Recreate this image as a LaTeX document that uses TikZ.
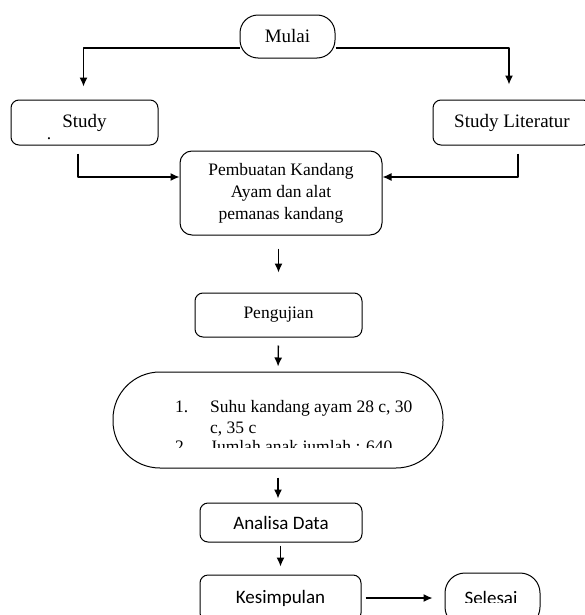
\documentclass[tikz,border=0pt]{standalone}
\usepackage{fontspec}
\setmainfont{Liberation Serif}
\newfontfamily\calibri{Carlito}
\usetikzlibrary{arrows.meta}
\begin{document}
\begin{tikzpicture}[>={Latex[length=9bp,width=8bp]},line join=bevel,
  kotak/.style={draw,line width=1bp,rounded corners=8bp,inner sep=0pt,align=center},
  teks/.style={inner sep=0pt,font=\fontsize{17.5bp}{22bp}\selectfont},
  besar/.style={font=\fontsize{19bp}{22bp}\selectfont},
  sans/.style={font=\calibri\fontsize{19bp}{22bp}\selectfont},
  panah/.style={black,line width=1.3bp,->},
]
\useasboundingbox (0bp,0bp) rectangle (585bp,-615bp);
\clip (0bp,0bp) rectangle (585bp,-615bp);
%%
\node (mulai) at (287.5bp,-36.5bp) [kotak,besar,rounded corners=18bp,minimum width=95bp,minimum height=43bp] {Mulai};
  \node (study) at (84.5bp,-122.5bp) [kotak,besar,minimum width=147bp,minimum height=45bp] {Study};
  \node (titik) at (49bp,-139bp) [teks] {.};
  \node (stulit) at (512bp,-122.5bp) [kotak,besar,minimum width=158bp,minimum height=45bp] {Study Literatur};
  \node (buat) at (281bp,-193bp) [kotak,teks,rounded corners=12bp,minimum width=202bp,minimum height=84bp] {Pembuatan Kandang\\Ayam dan alat\\pemanas kandang};
  \node (uji) at (278.5bp,-315bp) [kotak,teks,minimum width=167bp,minimum height=44bp] {Pengujian};
  \node (hasil) at (278bp,-420bp) [kotak,rounded corners=47bp,minimum width=330bp,minimum height=96bp] {};
  \node (no1) at (175bp,-412bp) [teks,anchor=base west] {1.};
  \node (suhu) at (210bp,-412bp) [teks,anchor=base west] {Suhu kandang ayam 28 c, 30};
  \node (suhu2) at (210bp,-433bp) [teks,anchor=base west] {c, 35 c};
  \begin{scope}
  \clip (113bp,-372bp) rectangle (443bp,-447bp);
  \node (no2) at (175bp,-452bp) [teks,anchor=base west] {2.};
  \node (jumlah) at (210bp,-452bp) [teks,anchor=base west] {Jumlah anak jumlah : 640};
  \end{scope}
  \node (analisa) at (281bp,-522.5bp) [kotak,sans,minimum width=162bp,minimum height=39bp] {Analisa Data};
  \node (simpul) at (280.5bp,-598bp) [kotak,sans,minimum width=161bp,minimum height=46bp] {Kesimpulan};
  \node (selesai) at (492.5bp,-600bp) [kotak,rounded corners=20bp,minimum width=95bp,minimum height=54bp] {};
  \begin{scope}
  \clip (445bp,-570bp) rectangle (540bp,-602bp);
  \node (tselesai) at (491bp,-604bp) [sans,inner sep=0pt,anchor=base] {Selesai};
  \end{scope}
%
  \draw [panah] ([yshift=-11.5bp]mulai.west) -| ([xshift=-1bp,yshift=13bp]study.north);
  \draw [panah] ([yshift=-11.5bp]mulai.east) -| ([xshift=-3bp,yshift=15bp]stulit.north);
  \draw [panah] ([xshift=-6.5bp,yshift=-8bp]study.south) |- ([yshift=16bp]buat.west);
  \draw [panah] ([xshift=6bp,yshift=-8bp]stulit.south) |- ([yshift=16bp]buat.east);
  \draw [panah,shorten <=13bp,shorten >=20bp] (uji.north |- buat.south) -- (uji.north);
  \draw [panah,shorten <=8bp,shorten >=5bp] (uji.south) -- (hasil.north);
  \draw [panah,shorten <=9bp,shorten >=4bp] (hasil.south) -- (hasil.south |- analisa.north);
  \draw [panah,shorten <=3bp,shorten >=8bp] (simpul.north |- analisa.south) -- (simpul.north);
  \draw [panah,shorten <=4bp,shorten >=12bp] (simpul.east) -- (simpul.east -| selesai.west);
%
\end{tikzpicture}
\end{document}
